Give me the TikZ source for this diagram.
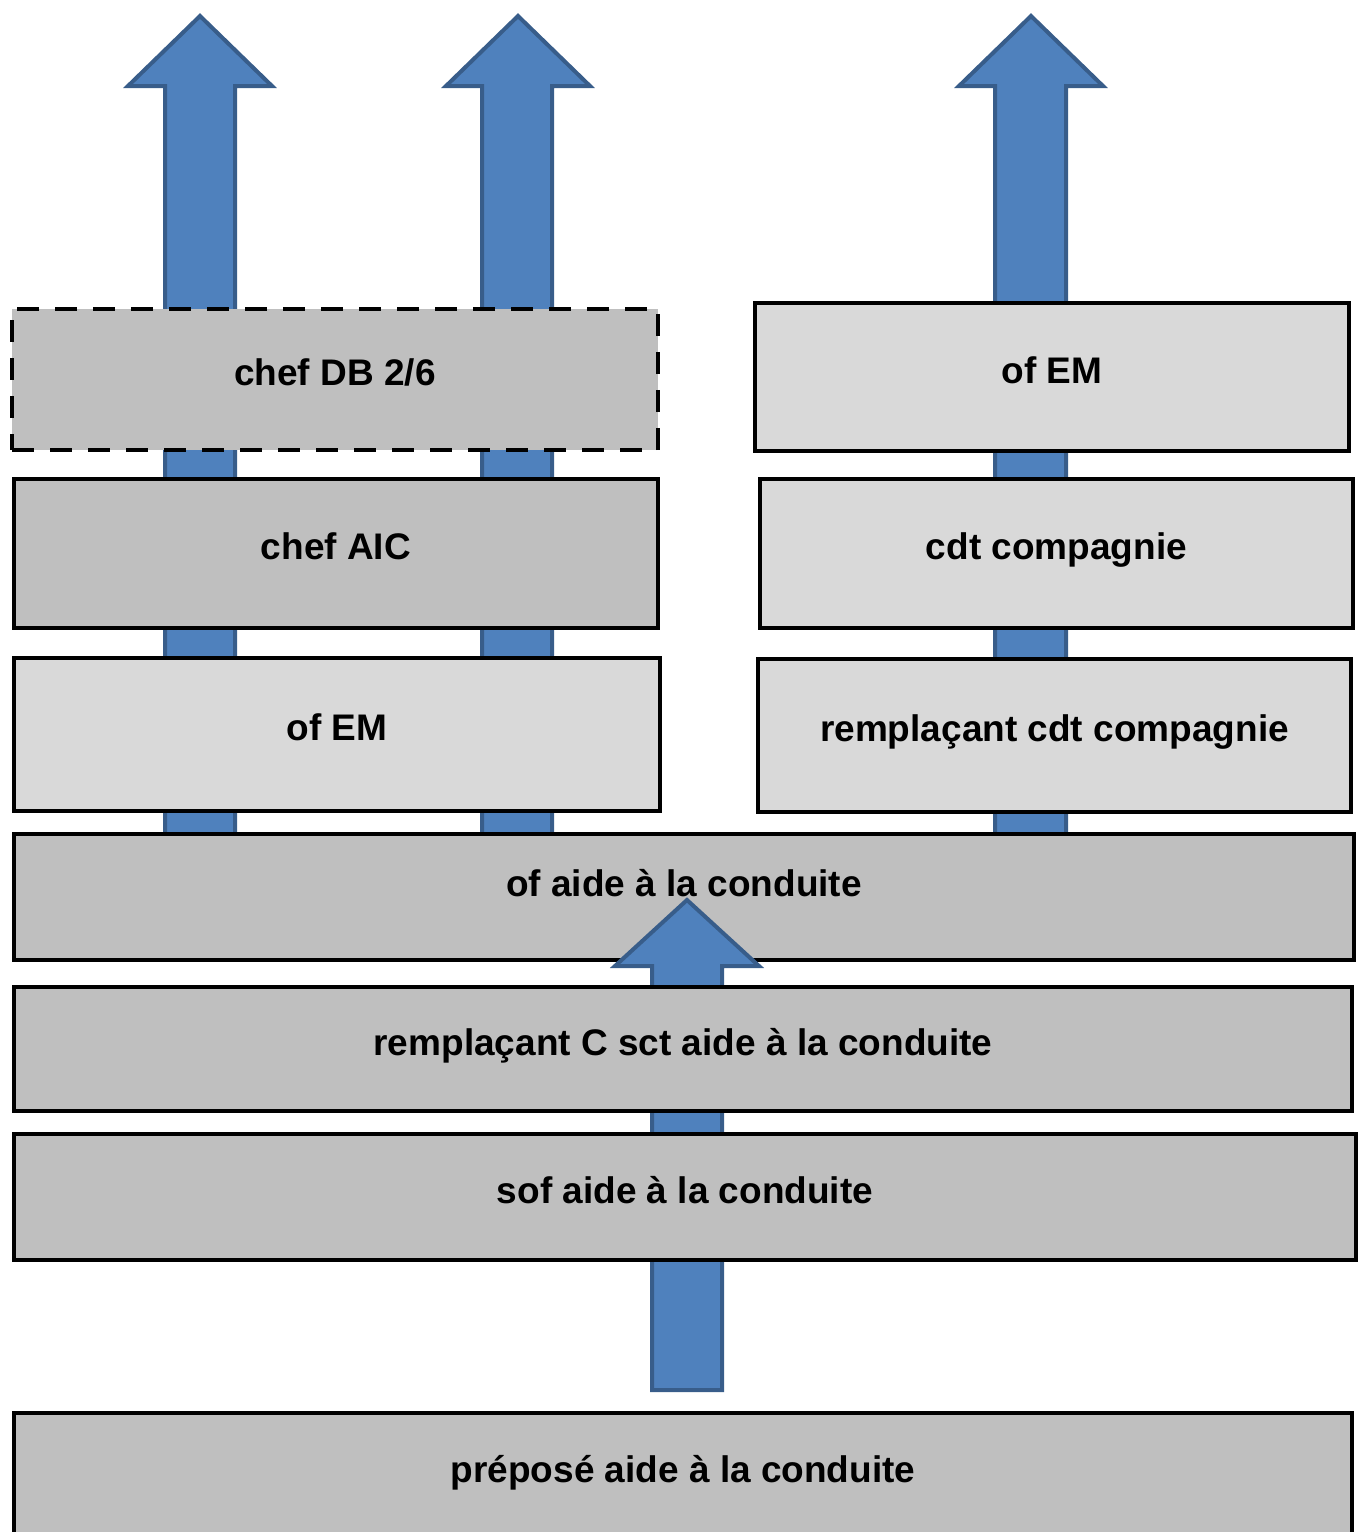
\documentclass[tikz,border=0pt]{standalone}
\usepackage{fontspec}
\setmainfont{Liberation Sans}

\definecolor{boxdark}{HTML}{BFBFBF}
\definecolor{boxlight}{HTML}{D9D9D9}
\definecolor{arrowfill}{HTML}{4F81BD}
\definecolor{arrowline}{HTML}{385D8A}

\begin{document}
\begin{tikzpicture}[
    x=0.5pt, y=-0.5pt,
    level/.style={draw, line width=2pt, fill=#1, inner sep=0pt,
        text height=13.3pt, text depth=7pt,
        font=\fontsize{18.5}{22}\selectfont\bfseries},
    bigarrow/.style={fill=arrowfill, draw=arrowline, line width=2pt, line join=miter}
]
\useasboundingbox (0,0) rectangle (1362,1532);

% Arrows going up, behind the boxes
\draw[bigarrow] (165,850) -- (165,86) -- (128,86) -- (200,16) -- (272,86) -- (235,86) -- (235,850) -- cycle;
\draw[bigarrow] (482,850) -- (482,86) -- (446,86) -- (518,16) -- (590,86) -- (552,86) -- (552,850) -- cycle;
\draw[bigarrow] (995,850) -- (995,86) -- (959,86) -- (1031,16) -- (1103,86) -- (1066,86) -- (1066,850) -- cycle;

% Left column
\node[level=boxdark, dashed, dash pattern=on 11pt off 8pt, minimum width=323pt, minimum height=70.5pt] (chefdb) at (335,379.5) {chef DB 2/6};
\node[level=boxdark, minimum width=322pt, minimum height=74.5pt] (chefaic) at (336,553.5) {chef AIC};
\node[level=boxlight, minimum width=323pt, minimum height=76.5pt] (ofemleft) at (337,734.5) {of EM};

% Right column
\node[level=boxlight, minimum width=297pt, minimum height=74pt] (ofemright) at (1052,377) {of EM};
\node[level=boxlight, minimum width=296.5pt, minimum height=74.5pt] (cdtcie) at (1056.5,553.5) {cdt compagnie};
\node[level=boxlight, minimum width=296.5pt, minimum height=76.5pt] (rempcdt) at (1054.5,735.5) {remplaçant cdt compagnie};

% Full width levels
\node[level=boxdark, text depth=14pt, minimum width=670pt, minimum height=63pt] (ofaide) at (684,897) {of aide à la conduite};

% Arrow from the bottom
\draw[bigarrow] (652,1390) -- (652,966) -- (615,966) -- (687,900) -- (759,966) -- (722,966) -- (722,1390) -- cycle;

\node[level=boxdark, minimum width=669pt, minimum height=62pt] (rempsct) at (683,1049) {remplaçant C sct aide à la conduite};
\node[level=boxdark, minimum width=671pt, minimum height=63pt] (sofaide) at (685,1197) {sof aide à la conduite};
\node[level=boxdark, minimum width=669pt, minimum height=63pt] (prepose) at (683,1476) {préposé aide à la conduite};

\end{tikzpicture}
\end{document}
